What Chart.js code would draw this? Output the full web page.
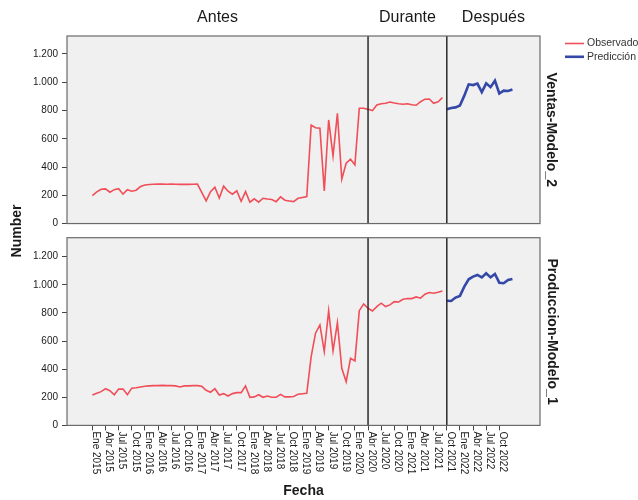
<!DOCTYPE html>
<html>
<head>
<meta charset="utf-8">
<script src="https://cdn.jsdelivr.net/npm/chart.js@4.4.1/dist/chart.umd.min.js"></script>
<style>
html,body{margin:0;padding:0;background:#fff;}
#wrap{position:relative;width:638px;height:500px;overflow:hidden;background:#fff;}
#wrap canvas{position:absolute;left:0;top:0;}
</style>
</head>
<body>
<div id="wrap">
<canvas id="cBot" width="638" height="500"></canvas>
<canvas id="cTop" width="638" height="500"></canvas>
</div>
<script>
// ---- data ----
const tickLabels = [
  'Ene 2015','Abr 2015','Jul 2015','Oct 2015',
  'Ene 2016','Abr 2016','Jul 2016','Oct 2016',
  'Ene 2017','Abr 2017','Jul 2017','Oct 2017',
  'Ene 2018','Abr 2018','Jul 2018','Oct 2018',
  'Ene 2019','Abr 2019','Jul 2019','Oct 2019',
  'Ene 2020','Abr 2020','Jul 2020','Oct 2020',
  'Ene 2021','Abr 2021','Jul 2021','Oct 2021',
  'Ene 2022','Abr 2022','Jul 2022','Oct 2022'
];
const periodNames = ['Antes','Durante','Después'];
const periodBreaks = ['Abr 2020','Oct 2021'];
const panelNames = ['Ventas-Modelo_2','Produccion-Modelo_1'];
const seriesNames = ['Observado','Predicción'];
const xTitle = 'Fecha';
const yTitle = 'Number';

// monthly values, Ene 2015 .. Sep 2021 (observed), Oct 2021 .. Ene 2023 (prediction)
const ventasObs = [
  198,224,243,245,222,240,247,208,240,229,236,262,273,
  276,278,279,279,278,279,278,277,278,277,278,279,
  220,160,225,258,180,265,229,208,232,158,
  226,151,175,151,179,174,170,155,189,165,160,155,179,185,191,
  697,678,674,231,733,478,780,314,427,455,415,
  816,816,808,799,
  839,848,851,860,853,848,844,848,840,837,862,880,881,851,862,891
];
const ventasPred = [809,818,822,835,905,985,980,990,930,992,965,1011,920,940,938,948];

const prodObs = [
  216,228,240,261,247,218,258,258,218,265,268,273,278,
  281,283,283,285,283,283,281,273,281,281,283,283,
  278,250,236,261,216,226,209,226,233,233,
  280,200,203,218,200,209,200,200,221,203,203,206,221,225,228,
  489,656,715,525,816,530,731,406,311,477,459,
  816,864,833,814,
  845,869,845,857,880,878,897,902,902,914,905,933,945,940,947,956
];
const prodPred = [887,885,909,921,987,1039,1058,1070,1053,1082,1053,1077,1015,1011,1035,1042];

// ---- styling ----
const FONT = "'Liberation Sans', Arial, sans-serif";
const RED = '#F04E58';
const BLUE = '#3448A8';
const TXT = '#1a1a1a';

const toPts = (arr, start) => arr.map((v, i) => ({x: start + i, y: v}));
const breakMonths = periodBreaks.map(l => 3 * tickLabels.indexOf(l));
const fmt = v => v >= 1000 ? Math.floor(v / 1000) + '.' + String(v % 1000).padStart(3, '0') : String(v);

function panelPlugin(id, extraDraw) {
  return {
    id: id,
    beforeDatasetsDraw(chart) {
      const {ctx, chartArea: a} = chart;
      ctx.save();
      ctx.fillStyle = '#F0F0F0';
      ctx.fillRect(a.left, a.top, a.width, a.height);
      ctx.restore();
    },
    afterDatasetsDraw(chart) {
      const {ctx, chartArea: a} = chart;
      const xs = chart.scales.x;
      ctx.save();
      ctx.strokeStyle = '#2b2b2b';
      ctx.lineWidth = 1.5;
      breakMonths.forEach(m => {
        const px = xs.getPixelForValue(m);
        ctx.beginPath();
        ctx.moveTo(px, a.top);
        ctx.lineTo(px, a.bottom);
        ctx.stroke();
      });
      ctx.strokeStyle = '#6a6a6a';
      ctx.lineWidth = 1.2;
      ctx.strokeRect(a.left, a.top, a.width, a.height);
      ctx.restore();
    },
    afterDraw(chart) { extraDraw(chart); }
  };
}

function drawRotated(ctx, text, x, y, angle, font, align) {
  ctx.save();
  ctx.translate(x, y);
  ctx.rotate(angle);
  ctx.font = font;
  ctx.fillStyle = TXT;
  ctx.textAlign = align || 'center';
  ctx.textBaseline = 'middle';
  ctx.fillText(text, 0, 0);
  ctx.restore();
}

function makeChart(id, obs, pred, yMax, padding, showX, extraDraw) {
  return new Chart(document.getElementById(id), {
    type: 'line',
    data: {
      datasets: [
        {label: seriesNames[0], data: toPts(obs, 0), borderColor: RED, borderWidth: 1.6,
         pointRadius: 0, tension: 0, fill: false},
        {label: seriesNames[1], data: toPts(pred, obs.length), borderColor: BLUE, borderWidth: 2.6,
         pointRadius: 0, tension: 0, fill: false}
      ]
    },
    options: {
      responsive: false,
      animation: false,
      events: [],
      layout: {padding: padding},
      plugins: {legend: {display: false}, tooltip: {enabled: false}},
      scales: {
        x: {
          type: 'linear', min: -5.8, max: 102.3, display: showX,
          grid: {drawOnChartArea: false, drawTicks: true, tickLength: 5, color: '#444', lineWidth: 1},
          border: {display: false},
          ticks: {display: false},
          afterBuildTicks: s => { s.ticks = tickLabels.map((l, i) => ({value: 3 * i})); },
          afterFit: s => { s.height = showX ? 74.6 : 0; }
        },
        y: {
          min: 0, max: yMax,
          ticks: {stepSize: 200, includeBounds: false, padding: 4, color: TXT,
                  font: {family: FONT, size: 10}, callback: v => fmt(v)},
          grid: {drawOnChartArea: false, drawTicks: true, tickLength: 5, color: '#444', lineWidth: 1},
          border: {display: false},
          afterFit: s => { s.width = 67; }
        }
      }
    },
    plugins: [panelPlugin(id + 'p', extraDraw)]
  });
}

// top panel
makeChart('cTop', ventasObs, ventasPred, 1327,
  {left: 0, top: 36, right: 98, bottom: 276.44}, false,
  chart => {
    const {ctx, chartArea: a} = chart;
    const xs = chart.scales.x;
    const edges = [a.left].concat(breakMonths.map(m => xs.getPixelForValue(m)), [a.right]);
    ctx.save();
    ctx.font = '16px ' + FONT;
    ctx.fillStyle = TXT;
    ctx.textAlign = 'center';
    ctx.textBaseline = 'middle';
    periodNames.forEach((n, i) => ctx.fillText(n, (edges[i] + edges[i + 1]) / 2, 18));
    // legend
    const lx = a.right + 25;
    [[RED, 1.6, 43.5], [BLUE, 2.6, 56.8]].forEach((s, i) => {
      ctx.strokeStyle = s[0];
      ctx.lineWidth = s[1];
      ctx.beginPath();
      ctx.moveTo(lx, s[2]);
      ctx.lineTo(lx + 19, s[2]);
      ctx.stroke();
      ctx.font = '10.5px ' + FONT;
      ctx.fillStyle = '#333';
      ctx.textAlign = 'left';
      ctx.fillText(seriesNames[i], lx + 22, s[2]);
    });
    ctx.restore();
    drawRotated(ctx, panelNames[0], 551, (a.top + a.bottom) / 2, Math.PI / 2, 'bold 14px ' + FONT);
  });

// bottom panel
makeChart('cBot', prodObs, prodPred, 1335,
  {left: 0, top: 237.7, right: 98, bottom: 0}, true,
  chart => {
    const {ctx, chartArea: a} = chart;
    const xs = chart.scales.x;
    tickLabels.forEach((l, i) => {
      const px = xs.getPixelForValue(3 * i);
      drawRotated(ctx, l, px + 3.6, xs.top + 6, Math.PI / 2, '10px ' + FONT, 'left');
    });
    ctx.save();
    ctx.font = 'bold 14px ' + FONT;
    ctx.fillStyle = TXT;
    ctx.textAlign = 'center';
    ctx.textBaseline = 'middle';
    ctx.fillText(xTitle, (a.left + a.right) / 2, 491);
    ctx.restore();
    drawRotated(ctx, yTitle, 17, 231, -Math.PI / 2, 'bold 14px ' + FONT);
    drawRotated(ctx, panelNames[1], 552, (a.top + a.bottom) / 2, Math.PI / 2, 'bold 14px ' + FONT);
  });
</script>
</body>
</html>
